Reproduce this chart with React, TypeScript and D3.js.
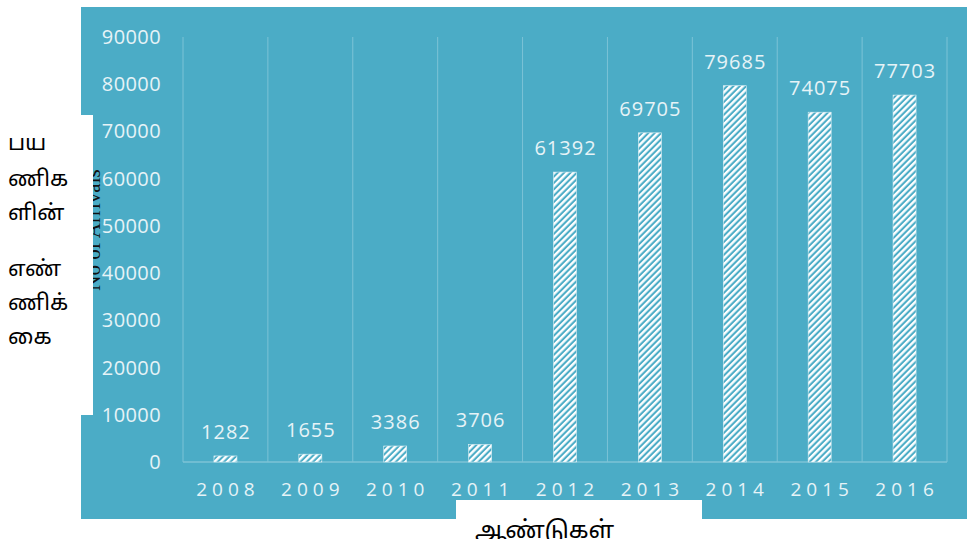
import React from "react";
import * as d3 from "d3";

const years = ["2008", "2009", "2010", "2011", "2012", "2013", "2014", "2015", "2016"];
const arrivals = [1282, 1655, 3386, 3706, 61392, 69705, 79685, 74075, 77703];
const yTicks = [0, 10000, 20000, 30000, 40000, 50000, 60000, 70000, 80000, 90000];
const yLabelLines = ["பய", "ணிக", "ளின்", "எண்", "ணிக்", "கை"];
const yLabelLineY = [150, 186, 220, 276, 310, 344];
const xTitle = "ஆண்டுகள்";

export default function App() {
  const W = 967, H = 539;
  const x = d3.scaleBand<string>().domain(years).range([183, 947]).paddingInner(0).paddingOuter(0);
  const y = d3.scaleLinear().domain([0, 90000]).range([462, 37]);
  const barW = 23;
  const font = "'Open Sans', 'Liberation Sans', sans-serif";
  const light = "#e6f3f7";
  const grid = "#7cc3d6";
  return (
    <svg width={W} height={H} style={{ position: "absolute", left: 0, top: 0 }}>
      <defs>
        <pattern id="hatch" patternUnits="userSpaceOnUse" width="4.5" height="4.5" patternTransform="rotate(45)">
          <rect width="4.5" height="4.5" fill="#4BACC6" />
          <rect x="0" y="0" width="2.4" height="4.5" fill="#ffffff" />
        </pattern>
      </defs>
      <rect x={0} y={0} width={W} height={H} fill="#ffffff" />
      <rect x={81} y={7} width={886} height={512} fill="#4BACC6" />
      {years.map((yr, i) => (
        <line key={"g" + i} x1={x(yr)!} x2={x(yr)!} y1={y(90000)} y2={y(0)} stroke={grid} strokeWidth={1} />
      ))}
      <line x1={947} x2={947} y1={y(90000)} y2={y(0)} stroke={grid} strokeWidth={1} />
      <line x1={183} x2={947} y1={y(0)} y2={y(0)} stroke={grid} strokeWidth={1.5} />
      {yTicks.map((t) => (
        <text key={"t" + t} x={161} y={y(t)} dy="0.35em" textAnchor="end" fill={light} fontSize={20} fontFamily={font} letterSpacing={0.4}>
          {t}
        </text>
      ))}
      {years.map((yr, i) => {
        const cx = x(yr)! + x.bandwidth() / 2;
        const top = y(arrivals[i]);
        return (
          <g key={"b" + i}>
            <rect x={cx - barW / 2} y={top} width={barW} height={y(0) - top} fill="url(#hatch)" stroke="#dff0f5" strokeWidth={0.6} />
            <text x={cx + 0.5} y={top - 17} textAnchor="middle" fill={light} fontSize={20} fontFamily={font} letterSpacing={1}>
              {arrivals[i]}
            </text>
            <text x={cx + 2.5} y={496} textAnchor="middle" fill={light} fontSize={19} fontFamily={font} letterSpacing={5}>
              {yr}
            </text>
          </g>
        );
      })}
      <text transform="translate(100,230) rotate(-90)" textAnchor="middle" fontSize={21} fontFamily="'Liberation Serif', serif" fill="#111">
        No of Arrivals
      </text>
      <rect x={0} y={115} width={93} height={300} fill="#ffffff" />
      <rect x={456} y={500} width={246} height={39} fill="#ffffff" />
      {yLabelLines.map((l, i) => (
        <text key={"yl" + i} x={8} y={yLabelLineY[i]} fontSize={22} fontFamily="'Noto Sans', 'Noto Sans Tamil', sans-serif" fill="#000">
          {l}
        </text>
      ))}
      <text x={475} y={538} fontSize={24} fontFamily="'Noto Sans', 'Noto Sans Tamil', sans-serif" fill="#000">
        {xTitle}
      </text>
    </svg>
  );
}
